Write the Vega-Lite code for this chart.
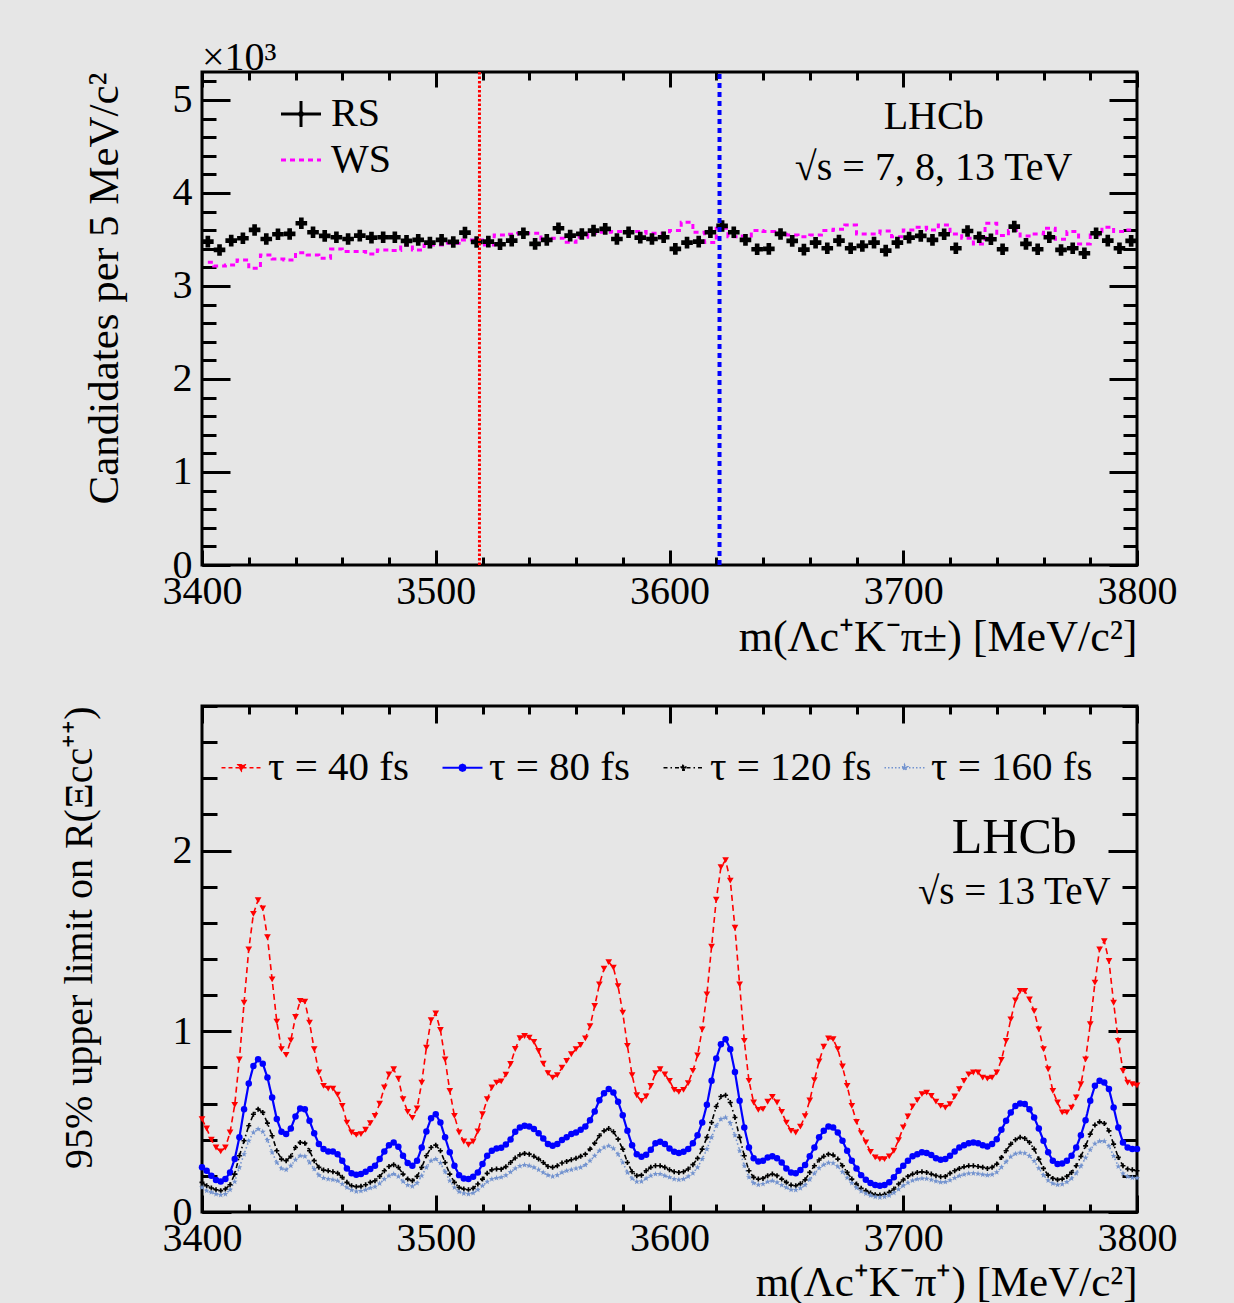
{
"$schema": "https://vega.github.io/schema/vega-lite/v6.json",
"background": "#e6e6e6",
"padding": {"left": 57, "top": 36, "right": 58, "bottom": 0},
"spacing": 42,
"config": {
  "font": "Liberation Serif",
  "view": {"stroke": "#000000", "strokeWidth": 3},
  "axis": {"grid": false, "domain": false, "labelFont": "Liberation Serif", "labelFontSize": 40, "labelColor": "#000000", "titleFont": "Liberation Serif", "titleFontSize": 43, "titleFontWeight": "normal", "titleColor": "#000000", "tickColor": "#000000", "tickWidth": 3, "labelFlush": false, "labelOverlap": false, "labelBound": false},
  "legend": {"labelFont": "Liberation Serif", "labelFontSize": 40, "labelColor": "#000000", "padding": 0, "labelLimit": 500}
},
"resolve": {"scale": {"color": "independent"}, "legend": {"color": "independent"}},
"vconcat": [
{
  "width": 935, "height": 493,
  "title": {"text": "×10³", "anchor": "start", "frame": "group", "fontSize": 40, "font": "Liberation Serif", "fontWeight": "normal", "color": "#000000", "offset": -8},
  "data": {"values": [
{"m":3402.5,"RS":3.476,"WS":3.255},{"m":3407.5,"RS":3.387,"WS":3.215},{"m":3412.5,"RS":3.487,"WS":3.226},{"m":3417.5,"RS":3.513,"WS":3.280},
{"m":3422.5,"RS":3.602,"WS":3.190},{"m":3427.5,"RS":3.505,"WS":3.333},{"m":3432.5,"RS":3.556,"WS":3.290},{"m":3437.5,"RS":3.559,"WS":3.280},
{"m":3442.5,"RS":3.674,"WS":3.358},{"m":3447.5,"RS":3.577,"WS":3.333},{"m":3452.5,"RS":3.538,"WS":3.298},{"m":3457.5,"RS":3.524,"WS":3.398},
{"m":3462.5,"RS":3.505,"WS":3.369},{"m":3467.5,"RS":3.541,"WS":3.369},{"m":3472.5,"RS":3.519,"WS":3.344},{"m":3477.5,"RS":3.524,"WS":3.387},
{"m":3482.5,"RS":3.524,"WS":3.380},{"m":3487.5,"RS":3.484,"WS":3.441},{"m":3492.5,"RS":3.495,"WS":3.387},{"m":3497.5,"RS":3.466,"WS":3.441},
{"m":3502.5,"RS":3.495,"WS":3.441},{"m":3507.5,"RS":3.473,"WS":3.459},{"m":3512.5,"RS":3.573,"WS":3.495},{"m":3517.5,"RS":3.473,"WS":3.495},
{"m":3522.5,"RS":3.476,"WS":3.441},{"m":3527.5,"RS":3.448,"WS":3.548},{"m":3532.5,"RS":3.487,"WS":3.557},{"m":3537.5,"RS":3.567,"WS":3.567},
{"m":3542.5,"RS":3.452,"WS":3.567},{"m":3547.5,"RS":3.495,"WS":3.484},{"m":3552.5,"RS":3.620,"WS":3.513},{"m":3557.5,"RS":3.541,"WS":3.470},
{"m":3562.5,"RS":3.559,"WS":3.524},{"m":3567.5,"RS":3.595,"WS":3.567},{"m":3572.5,"RS":3.613,"WS":3.577},{"m":3577.5,"RS":3.505,"WS":3.584},
{"m":3582.5,"RS":3.577,"WS":3.584},{"m":3587.5,"RS":3.519,"WS":3.584},{"m":3592.5,"RS":3.505,"WS":3.567},{"m":3597.5,"RS":3.524,"WS":3.567},
{"m":3602.5,"RS":3.398,"WS":3.595},{"m":3607.5,"RS":3.466,"WS":3.685},{"m":3612.5,"RS":3.476,"WS":3.577},{"m":3617.5,"RS":3.577,"WS":3.466},
{"m":3622.5,"RS":3.645,"WS":3.620},{"m":3627.5,"RS":3.577,"WS":3.530},{"m":3632.5,"RS":3.495,"WS":3.538},{"m":3637.5,"RS":3.395,"WS":3.595},
{"m":3642.5,"RS":3.398,"WS":3.584},{"m":3647.5,"RS":3.559,"WS":3.556},{"m":3652.5,"RS":3.484,"WS":3.548},{"m":3657.5,"RS":3.391,"WS":3.530},
{"m":3662.5,"RS":3.465,"WS":3.548},{"m":3667.5,"RS":3.405,"WS":3.595},{"m":3672.5,"RS":3.487,"WS":3.610},{"m":3677.5,"RS":3.405,"WS":3.656},
{"m":3682.5,"RS":3.430,"WS":3.559},{"m":3687.5,"RS":3.466,"WS":3.559},{"m":3692.5,"RS":3.380,"WS":3.591},{"m":3697.5,"RS":3.466,"WS":3.530},
{"m":3702.5,"RS":3.519,"WS":3.602},{"m":3707.5,"RS":3.538,"WS":3.631},{"m":3712.5,"RS":3.495,"WS":3.602},{"m":3717.5,"RS":3.556,"WS":3.656},
{"m":3722.5,"RS":3.405,"WS":3.559},{"m":3727.5,"RS":3.591,"WS":3.513},{"m":3732.5,"RS":3.524,"WS":3.452},{"m":3737.5,"RS":3.502,"WS":3.674},
{"m":3742.5,"RS":3.395,"WS":3.541},{"m":3747.5,"RS":3.638,"WS":3.595},{"m":3752.5,"RS":3.452,"WS":3.538},{"m":3757.5,"RS":3.395,"WS":3.559},
{"m":3762.5,"RS":3.524,"WS":3.620},{"m":3767.5,"RS":3.387,"WS":3.502},{"m":3772.5,"RS":3.405,"WS":3.584},{"m":3777.5,"RS":3.352,"WS":3.452},
{"m":3782.5,"RS":3.567,"WS":3.548},{"m":3787.5,"RS":3.487,"WS":3.631},{"m":3792.5,"RS":3.405,"WS":3.584},{"m":3797.5,"RS":3.484,"WS":3.602}
  ]},
  "transform": [{"fold": ["RS", "WS"], "as": ["series", "count"]}],
  "resolve": {"axis": {"x": "independent", "y": "independent"}},
  "layer": [
    {
      "transform": [{"filter": "datum.series === 'WS'"}],
      "mark": {"type": "line", "interpolate": "step"},
      "encoding": {
        "x": {"field": "m", "type": "quantitative", "scale": {"domain": [3400, 3800], "nice": false, "zero": false},
              "axis": {"orient": "bottom", "values": [3400, 3500, 3600, 3700, 3800], "format": "d", "tickSize": -15, "labelPadding": 21, "title": "m(Λc⁺K⁻π±) [MeV/c²]", "titleFontSize": 44, "titleAnchor": "end", "titlePadding": 4}},
        "y": {"field": "count", "type": "quantitative", "scale": {"domain": [0, 5.3], "nice": false},
              "axis": {"orient": "left", "values": [0, 1, 2, 3, 4, 5], "tickSize": -28, "labelPadding": 38, "title": "Candidates per 5 MeV/c²", "titleAnchor": "end", "titlePadding": 46}},
        "color": {"field": "series", "type": "nominal", "scale": {"domain": ["RS", "WS"], "range": ["#000000", "#ff00ff"]},
                  "legend": {"orient": "none", "legendX": 79, "legendY": 22, "title": null, "direction": "vertical", "symbolSize": 1600, "labelOffset": 10, "rowPadding": 6, "labelFontSize": 40,
                    "encode": {"symbols": {"update": {
                      "shape": {"signal": "datum.value === 'RS' ? 'M-1,0H1M0,-0.65V0.65M0.1,0L0,0.1L-0.1,0L0,-0.1Z' : 'M-1,0H1'"},
                      "stroke": {"signal": "datum.value === 'RS' ? '#000000' : '#ff00ff'"},
                      "fill": {"signal": "datum.value === 'RS' ? '#000000' : 'transparent'"},
                      "strokeWidth": {"signal": "datum.value === 'RS' ? 3 : 3"},
                      "strokeDash": {"signal": "datum.value === 'RS' ? [1, 0] : [5, 4]"},
                      "opacity": {"value": 1}
                    }}}}},
        "strokeDash": {"field": "series", "type": "nominal", "scale": {"domain": ["RS", "WS", "tau40", "tau80", "tau120", "tau160"], "range": [[1, 0], [5, 4], [6, 4], [1, 0], [5, 3, 1.5, 3], [1.5, 2.5]]}, "legend": null},
        "strokeWidth": {"field": "series", "type": "ordinal", "scale": {"type": "ordinal", "domain": ["RS", "WS", "tau40", "tau80", "tau120", "tau160"], "range": [3, 3, 1.6, 2.2, 1.6, 1.6]}, "legend": null}
      }
    },
    {
      "transform": [{"filter": "datum.series === 'RS'"}],
      "mark": {"type": "point", "filled": true, "size": 135, "opacity": 1},
      "encoding": {
        "x": {"field": "m", "type": "quantitative", "scale": {"domain": [3400, 3800], "nice": false, "zero": false},
              "axis": {"orient": "bottom", "values": [3400,3420,3440,3460,3480,3500,3520,3540,3560,3580,3600,3620,3640,3660,3680,3700,3720,3740,3760,3780,3800], "tickSize": -8, "labels": false, "title": null}},
        "y": {"field": "count", "type": "quantitative", "scale": {"domain": [0, 5.3], "nice": false},
              "axis": {"orient": "left", "values": [0,0.2,0.4,0.6,0.8,1,1.2,1.4,1.6,1.8,2,2.2,2.4,2.6,2.8,3,3.2,3.4,3.6,3.8,4,4.2,4.4,4.6,4.8,5,5.2], "tickSize": -14, "labels": false, "title": null}},
        "color": {"field": "series", "type": "nominal", "scale": {"domain": ["RS", "WS"], "range": ["#000000", "#ff00ff"]}},
        "shape": {"field": "series", "type": "nominal", "scale": {"domain": ["RS", "WS", "tau40", "tau80", "tau120", "tau160"], "range": ["cross", "cross", "triangle-down", "circle", "M-1,-0.33H-0.33V-1H0.33V-0.33H1V0.33H0.33V1H-0.33V0.33H-1Z", "M0,-1L0.235,-0.32L0.95,-0.31L0.38,0.12L0.59,0.81L0,0.4L-0.59,0.81L-0.38,0.12L-0.95,-0.31L-0.235,-0.32Z"]}, "legend": null}
      }
    },
    {
      "data": {"values": [{"mass": 3518.7}]},
      "mark": {"type": "rule", "color": "#ff0000", "strokeWidth": 3, "strokeDash": [2.5, 2]},
      "encoding": {
        "x": {"field": "mass", "type": "quantitative", "scale": {"domain": [3400, 3800], "nice": false, "zero": false},
              "axis": {"orient": "top", "values": [3400, 3500, 3600, 3700, 3800], "tickSize": -15, "labels": false, "title": null}},
        "y": {"datum": 0, "type": "quantitative", "scale": {"domain": [0, 5.3], "nice": false},
              "axis": {"orient": "right", "values": [0, 1, 2, 3, 4, 5], "tickSize": -28, "labels": false, "title": null}},
        "y2": {"datum": 5.3}
      }
    },
    {
      "data": {"values": [{"mass": 3621.4}]},
      "mark": {"type": "rule", "color": "#0000ff", "strokeWidth": 4, "strokeDash": [5, 4]},
      "encoding": {
        "x": {"field": "mass", "type": "quantitative", "scale": {"domain": [3400, 3800], "nice": false, "zero": false},
              "axis": {"orient": "top", "values": [3400,3420,3440,3460,3480,3500,3520,3540,3560,3580,3600,3620,3640,3660,3680,3700,3720,3740,3760,3780,3800], "tickSize": -8, "labels": false, "title": null}},
        "y": {"datum": 0, "type": "quantitative", "scale": {"domain": [0, 5.3], "nice": false},
              "axis": {"orient": "right", "values": [0,0.2,0.4,0.6,0.8,1,1.2,1.4,1.6,1.8,2,2.2,2.4,2.6,2.8,3,3.2,3.4,3.6,3.8,4,4.2,4.4,4.6,4.8,5,5.2], "tickSize": -14, "labels": false, "title": null}},
        "y2": {"datum": 5.3}
      }
    },
    {
      "data": {"values": [{"label": "LHCb"}]},
      "mark": {"type": "text", "font": "Liberation Serif", "fontSize": 40, "align": "center", "baseline": "middle", "color": "#000000"},
      "encoding": {
        "text": {"field": "label"},
        "x": {"datum": 3713, "type": "quantitative", "axis": null},
        "y": {"datum": 4.82, "type": "quantitative", "axis": null}
      }
    },
    {
      "data": {"values": [{"label": "√s = 7, 8, 13 TeV"}]},
      "mark": {"type": "text", "font": "Liberation Serif", "fontSize": 40, "align": "center", "baseline": "middle", "color": "#000000"},
      "encoding": {
        "text": {"field": "label"},
        "x": {"datum": 3713, "type": "quantitative", "axis": null},
        "y": {"datum": 4.27, "type": "quantitative", "axis": null}
      }
    }
  ]
},
{
  "width": 935, "height": 506,
  "data": {"values": [
{"m":3400,"tau40":0.514,"tau80":0.247,"tau120":0.164,"tau160":0.136},
{"m":3402,"tau40":0.462,"tau80":0.228,"tau120":0.145,"tau160":0.118},
{"m":3404,"tau40":0.400,"tau80":0.201,"tau120":0.133,"tau160":0.109},
{"m":3406,"tau40":0.357,"tau80":0.177,"tau120":0.123,"tau160":0.099},
{"m":3408,"tau40":0.335,"tau80":0.169,"tau120":0.118,"tau160":0.094},
{"m":3410,"tau40":0.357,"tau80":0.182,"tau120":0.127,"tau160":0.099},
{"m":3412,"tau40":0.440,"tau80":0.219,"tau120":0.151,"tau160":0.123},
{"m":3414,"tau40":0.593,"tau80":0.293,"tau120":0.210,"tau160":0.168},
{"m":3416,"tau40":0.845,"tau80":0.413,"tau120":0.311,"tau160":0.247},
{"m":3418,"tau40":1.158,"tau80":0.569,"tau120":0.394,"tau160":0.320},
{"m":3420,"tau40":1.453,"tau80":0.711,"tau120":0.477,"tau160":0.394},
{"m":3422,"tau40":1.650,"tau80":0.808,"tau120":0.541,"tau160":0.440},
{"m":3424,"tau40":1.726,"tau80":0.845,"tau120":0.569,"tau160":0.459},
{"m":3426,"tau40":1.680,"tau80":0.821,"tau120":0.551,"tau160":0.444},
{"m":3428,"tau40":1.521,"tau80":0.744,"tau120":0.492,"tau160":0.398},
{"m":3430,"tau40":1.287,"tau80":0.634,"tau120":0.422,"tau160":0.330},
{"m":3432,"tau40":1.053,"tau80":0.514,"tau120":0.339,"tau160":0.274},
{"m":3434,"tau40":0.901,"tau80":0.444,"tau120":0.293,"tau160":0.241},
{"m":3436,"tau40":0.869,"tau80":0.431,"tau120":0.284,"tau160":0.234},
{"m":3438,"tau40":0.950,"tau80":0.462,"tau120":0.308,"tau160":0.256},
{"m":3440,"tau40":1.079,"tau80":0.529,"tau120":0.357,"tau160":0.289},
{"m":3442,"tau40":1.168,"tau80":0.573,"tau120":0.385,"tau160":0.311},
{"m":3444,"tau40":1.164,"tau80":0.569,"tau120":0.381,"tau160":0.308},
{"m":3446,"tau40":1.048,"tau80":0.505,"tau120":0.339,"tau160":0.274},
{"m":3448,"tau40":0.901,"tau80":0.436,"tau120":0.284,"tau160":0.238},
{"m":3450,"tau40":0.772,"tau80":0.376,"tau120":0.247,"tau160":0.204},
{"m":3452,"tau40":0.698,"tau80":0.348,"tau120":0.232,"tau160":0.188},
{"m":3454,"tau40":0.683,"tau80":0.335,"tau120":0.228,"tau160":0.182},
{"m":3456,"tau40":0.683,"tau80":0.335,"tau120":0.223,"tau160":0.179},
{"m":3458,"tau40":0.650,"tau80":0.320,"tau120":0.215,"tau160":0.173},
{"m":3460,"tau40":0.587,"tau80":0.284,"tau120":0.192,"tau160":0.155},
{"m":3462,"tau40":0.495,"tau80":0.241,"tau120":0.164,"tau160":0.136},
{"m":3464,"tau40":0.440,"tau80":0.215,"tau120":0.145,"tau160":0.122},
{"m":3466,"tau40":0.427,"tau80":0.206,"tau120":0.140,"tau160":0.114},
{"m":3468,"tau40":0.431,"tau80":0.210,"tau120":0.142,"tau160":0.116},
{"m":3470,"tau40":0.455,"tau80":0.223,"tau120":0.151,"tau160":0.123},
{"m":3472,"tau40":0.492,"tau80":0.238,"tau120":0.164,"tau160":0.133},
{"m":3474,"tau40":0.532,"tau80":0.256,"tau120":0.173,"tau160":0.140},
{"m":3476,"tau40":0.600,"tau80":0.293,"tau120":0.197,"tau160":0.158},
{"m":3478,"tau40":0.689,"tau80":0.335,"tau120":0.228,"tau160":0.182},
{"m":3480,"tau40":0.762,"tau80":0.370,"tau120":0.252,"tau160":0.201},
{"m":3482,"tau40":0.790,"tau80":0.385,"tau120":0.262,"tau160":0.210},
{"m":3484,"tau40":0.738,"tau80":0.361,"tau120":0.247,"tau160":0.197},
{"m":3486,"tau40":0.624,"tau80":0.311,"tau120":0.210,"tau160":0.169},
{"m":3488,"tau40":0.554,"tau80":0.271,"tau120":0.182,"tau160":0.149},
{"m":3490,"tau40":0.521,"tau80":0.256,"tau120":0.173,"tau160":0.142},
{"m":3492,"tau40":0.573,"tau80":0.284,"tau120":0.197,"tau160":0.160},
{"m":3494,"tau40":0.716,"tau80":0.357,"tau120":0.247,"tau160":0.201},
{"m":3496,"tau40":0.910,"tau80":0.446,"tau120":0.311,"tau160":0.247},
{"m":3498,"tau40":1.061,"tau80":0.519,"tau120":0.357,"tau160":0.284},
{"m":3500,"tau40":1.099,"tau80":0.541,"tau120":0.370,"tau160":0.293},
{"m":3502,"tau40":1.007,"tau80":0.495,"tau120":0.339,"tau160":0.271},
{"m":3504,"tau40":0.845,"tau80":0.413,"tau120":0.274,"tau160":0.223},
{"m":3506,"tau40":0.670,"tau80":0.330,"tau120":0.210,"tau160":0.173},
{"m":3508,"tau40":0.532,"tau80":0.256,"tau120":0.164,"tau160":0.136},
{"m":3510,"tau40":0.440,"tau80":0.204,"tau120":0.136,"tau160":0.112},
{"m":3512,"tau40":0.390,"tau80":0.186,"tau120":0.127,"tau160":0.103},
{"m":3514,"tau40":0.372,"tau80":0.182,"tau120":0.123,"tau160":0.099},
{"m":3516,"tau40":0.390,"tau80":0.195,"tau120":0.131,"tau160":0.105},
{"m":3518,"tau40":0.446,"tau80":0.219,"tau120":0.155,"tau160":0.123},
{"m":3520,"tau40":0.541,"tau80":0.265,"tau120":0.182,"tau160":0.145},
{"m":3522,"tau40":0.624,"tau80":0.311,"tau120":0.214,"tau160":0.168},
{"m":3524,"tau40":0.689,"tau80":0.339,"tau120":0.234,"tau160":0.182},
{"m":3526,"tau40":0.716,"tau80":0.352,"tau120":0.238,"tau160":0.188},
{"m":3528,"tau40":0.723,"tau80":0.355,"tau120":0.237,"tau160":0.192},
{"m":3530,"tau40":0.760,"tau80":0.373,"tau120":0.251,"tau160":0.203},
{"m":3532,"tau40":0.819,"tau80":0.401,"tau120":0.274,"tau160":0.221},
{"m":3534,"tau40":0.902,"tau80":0.444,"tau120":0.299,"tau160":0.241},
{"m":3536,"tau40":0.962,"tau80":0.468,"tau120":0.317,"tau160":0.254},
{"m":3538,"tau40":0.974,"tau80":0.477,"tau120":0.324,"tau160":0.260},
{"m":3540,"tau40":0.965,"tau80":0.473,"tau120":0.320,"tau160":0.256},
{"m":3542,"tau40":0.941,"tau80":0.459,"tau120":0.308,"tau160":0.247},
{"m":3544,"tau40":0.891,"tau80":0.436,"tau120":0.293,"tau160":0.234},
{"m":3546,"tau40":0.821,"tau80":0.407,"tau120":0.274,"tau160":0.219},
{"m":3548,"tau40":0.768,"tau80":0.376,"tau120":0.252,"tau160":0.204},
{"m":3550,"tau40":0.744,"tau80":0.366,"tau120":0.247,"tau160":0.197},
{"m":3552,"tau40":0.757,"tau80":0.376,"tau120":0.256,"tau160":0.204},
{"m":3554,"tau40":0.799,"tau80":0.398,"tau120":0.271,"tau160":0.219},
{"m":3556,"tau40":0.836,"tau80":0.413,"tau120":0.280,"tau160":0.228},
{"m":3558,"tau40":0.873,"tau80":0.431,"tau120":0.289,"tau160":0.234},
{"m":3560,"tau40":0.901,"tau80":0.440,"tau120":0.297,"tau160":0.241},
{"m":3562,"tau40":0.924,"tau80":0.455,"tau120":0.308,"tau160":0.247},
{"m":3564,"tau40":0.961,"tau80":0.473,"tau120":0.320,"tau160":0.260},
{"m":3566,"tau40":1.029,"tau80":0.508,"tau120":0.348,"tau160":0.284},
{"m":3568,"tau40":1.140,"tau80":0.556,"tau120":0.381,"tau160":0.311},
{"m":3570,"tau40":1.260,"tau80":0.619,"tau120":0.422,"tau160":0.339},
{"m":3572,"tau40":1.346,"tau80":0.657,"tau120":0.449,"tau160":0.357},
{"m":3574,"tau40":1.383,"tau80":0.680,"tau120":0.462,"tau160":0.366},
{"m":3576,"tau40":1.352,"tau80":0.661,"tau120":0.444,"tau160":0.352},
{"m":3578,"tau40":1.250,"tau80":0.610,"tau120":0.403,"tau160":0.320},
{"m":3580,"tau40":1.103,"tau80":0.536,"tau120":0.348,"tau160":0.274},
{"m":3582,"tau40":0.919,"tau80":0.449,"tau120":0.274,"tau160":0.219},
{"m":3584,"tau40":0.757,"tau80":0.370,"tau120":0.223,"tau160":0.186},
{"m":3586,"tau40":0.646,"tau80":0.320,"tau120":0.201,"tau160":0.168},
{"m":3588,"tau40":0.615,"tau80":0.306,"tau120":0.204,"tau160":0.169},
{"m":3590,"tau40":0.639,"tau80":0.317,"tau120":0.228,"tau160":0.186},
{"m":3592,"tau40":0.698,"tau80":0.344,"tau120":0.247,"tau160":0.201},
{"m":3594,"tau40":0.768,"tau80":0.381,"tau120":0.256,"tau160":0.210},
{"m":3596,"tau40":0.790,"tau80":0.389,"tau120":0.256,"tau160":0.210},
{"m":3598,"tau40":0.762,"tau80":0.376,"tau120":0.247,"tau160":0.201},
{"m":3600,"tau40":0.726,"tau80":0.352,"tau120":0.234,"tau160":0.192},
{"m":3602,"tau40":0.676,"tau80":0.333,"tau120":0.223,"tau160":0.182},
{"m":3604,"tau40":0.665,"tau80":0.326,"tau120":0.219,"tau160":0.179},
{"m":3606,"tau40":0.676,"tau80":0.333,"tau120":0.223,"tau160":0.182},
{"m":3608,"tau40":0.713,"tau80":0.348,"tau120":0.238,"tau160":0.197},
{"m":3610,"tau40":0.781,"tau80":0.381,"tau120":0.262,"tau160":0.215},
{"m":3612,"tau40":0.867,"tau80":0.425,"tau120":0.297,"tau160":0.247},
{"m":3614,"tau40":1.011,"tau80":0.495,"tau120":0.348,"tau160":0.293},
{"m":3616,"tau40":1.204,"tau80":0.593,"tau120":0.413,"tau160":0.348},
{"m":3618,"tau40":1.468,"tau80":0.726,"tau120":0.495,"tau160":0.413},
{"m":3620,"tau40":1.729,"tau80":0.849,"tau120":0.584,"tau160":0.477},
{"m":3622,"tau40":1.908,"tau80":0.928,"tau120":0.639,"tau160":0.514},
{"m":3624,"tau40":1.947,"tau80":0.956,"tau120":0.646,"tau160":0.523},
{"m":3626,"tau40":1.834,"tau80":0.901,"tau120":0.606,"tau160":0.492},
{"m":3628,"tau40":1.573,"tau80":0.775,"tau120":0.523,"tau160":0.425},
{"m":3630,"tau40":1.260,"tau80":0.615,"tau120":0.413,"tau160":0.339},
{"m":3632,"tau40":0.947,"tau80":0.468,"tau120":0.311,"tau160":0.256},
{"m":3634,"tau40":0.726,"tau80":0.357,"tau120":0.228,"tau160":0.192},
{"m":3636,"tau40":0.606,"tau80":0.297,"tau120":0.192,"tau160":0.160},
{"m":3638,"tau40":0.565,"tau80":0.280,"tau120":0.182,"tau160":0.151},
{"m":3640,"tau40":0.569,"tau80":0.284,"tau120":0.186,"tau160":0.155},
{"m":3642,"tau40":0.610,"tau80":0.302,"tau120":0.201,"tau160":0.168},
{"m":3644,"tau40":0.637,"tau80":0.308,"tau120":0.210,"tau160":0.173},
{"m":3646,"tau40":0.606,"tau80":0.297,"tau120":0.201,"tau160":0.164},
{"m":3648,"tau40":0.554,"tau80":0.274,"tau120":0.182,"tau160":0.149},
{"m":3650,"tau40":0.495,"tau80":0.241,"tau120":0.164,"tau160":0.136},
{"m":3652,"tau40":0.449,"tau80":0.219,"tau120":0.149,"tau160":0.123},
{"m":3654,"tau40":0.440,"tau80":0.215,"tau120":0.145,"tau160":0.122},
{"m":3656,"tau40":0.472,"tau80":0.233,"tau120":0.157,"tau160":0.132},
{"m":3658,"tau40":0.531,"tau80":0.260,"tau120":0.178,"tau160":0.150},
{"m":3660,"tau40":0.617,"tau80":0.309,"tau120":0.219,"tau160":0.180},
{"m":3662,"tau40":0.730,"tau80":0.357,"tau120":0.256,"tau160":0.213},
{"m":3664,"tau40":0.834,"tau80":0.413,"tau120":0.288,"tau160":0.243},
{"m":3666,"tau40":0.915,"tau80":0.449,"tau120":0.308,"tau160":0.262},
{"m":3668,"tau40":0.961,"tau80":0.473,"tau120":0.320,"tau160":0.272},
{"m":3670,"tau40":0.956,"tau80":0.468,"tau120":0.315,"tau160":0.270},
{"m":3672,"tau40":0.901,"tau80":0.440,"tau120":0.293,"tau160":0.252},
{"m":3674,"tau40":0.805,"tau80":0.394,"tau120":0.256,"tau160":0.222},
{"m":3676,"tau40":0.698,"tau80":0.339,"tau120":0.219,"tau160":0.190},
{"m":3678,"tau40":0.587,"tau80":0.284,"tau120":0.182,"tau160":0.160},
{"m":3680,"tau40":0.499,"tau80":0.241,"tau120":0.155,"tau160":0.134},
{"m":3682,"tau40":0.436,"tau80":0.204,"tau120":0.131,"tau160":0.115},
{"m":3684,"tau40":0.385,"tau80":0.179,"tau120":0.118,"tau160":0.102},
{"m":3686,"tau40":0.333,"tau80":0.160,"tau120":0.105,"tau160":0.092},
{"m":3688,"tau40":0.302,"tau80":0.149,"tau120":0.096,"tau160":0.084},
{"m":3690,"tau40":0.293,"tau80":0.145,"tau120":0.094,"tau160":0.081},
{"m":3692,"tau40":0.293,"tau80":0.149,"tau120":0.098,"tau160":0.084},
{"m":3694,"tau40":0.308,"tau80":0.164,"tau120":0.109,"tau160":0.092},
{"m":3696,"tau40":0.339,"tau80":0.192,"tau120":0.127,"tau160":0.106},
{"m":3698,"tau40":0.398,"tau80":0.228,"tau120":0.155,"tau160":0.126},
{"m":3700,"tau40":0.468,"tau80":0.256,"tau120":0.177,"tau160":0.146},
{"m":3702,"tau40":0.529,"tau80":0.284,"tau120":0.197,"tau160":0.162},
{"m":3704,"tau40":0.584,"tau80":0.308,"tau120":0.210,"tau160":0.174},
{"m":3706,"tau40":0.619,"tau80":0.320,"tau120":0.219,"tau160":0.182},
{"m":3708,"tau40":0.652,"tau80":0.330,"tau120":0.223,"tau160":0.186},
{"m":3710,"tau40":0.661,"tau80":0.326,"tau120":0.219,"tau160":0.184},
{"m":3712,"tau40":0.643,"tau80":0.315,"tau120":0.210,"tau160":0.178},
{"m":3714,"tau40":0.611,"tau80":0.298,"tau120":0.201,"tau160":0.170},
{"m":3716,"tau40":0.587,"tau80":0.289,"tau120":0.195,"tau160":0.165},
{"m":3718,"tau40":0.578,"tau80":0.293,"tau120":0.197,"tau160":0.166},
{"m":3720,"tau40":0.597,"tau80":0.311,"tau120":0.214,"tau160":0.176},
{"m":3722,"tau40":0.639,"tau80":0.335,"tau120":0.228,"tau160":0.188},
{"m":3724,"tau40":0.680,"tau80":0.357,"tau120":0.241,"tau160":0.200},
{"m":3726,"tau40":0.726,"tau80":0.370,"tau120":0.250,"tau160":0.208},
{"m":3728,"tau40":0.762,"tau80":0.381,"tau120":0.256,"tau160":0.213},
{"m":3730,"tau40":0.772,"tau80":0.385,"tau120":0.256,"tau160":0.214},
{"m":3732,"tau40":0.772,"tau80":0.381,"tau120":0.252,"tau160":0.212},
{"m":3734,"tau40":0.744,"tau80":0.370,"tau120":0.247,"tau160":0.207},
{"m":3736,"tau40":0.738,"tau80":0.363,"tau120":0.241,"tau160":0.204},
{"m":3738,"tau40":0.744,"tau80":0.376,"tau120":0.247,"tau160":0.207},
{"m":3740,"tau40":0.772,"tau80":0.403,"tau120":0.265,"tau160":0.220},
{"m":3742,"tau40":0.842,"tau80":0.455,"tau120":0.302,"tau160":0.248},
{"m":3744,"tau40":0.947,"tau80":0.505,"tau120":0.339,"tau160":0.278},
{"m":3746,"tau40":1.066,"tau80":0.551,"tau120":0.376,"tau160":0.306},
{"m":3748,"tau40":1.171,"tau80":0.587,"tau120":0.400,"tau160":0.322},
{"m":3750,"tau40":1.223,"tau80":0.600,"tau120":0.413,"tau160":0.328},
{"m":3752,"tau40":1.223,"tau80":0.597,"tau120":0.407,"tau160":0.325},
{"m":3754,"tau40":1.177,"tau80":0.569,"tau120":0.385,"tau160":0.310},
{"m":3756,"tau40":1.112,"tau80":0.523,"tau120":0.348,"tau160":0.282},
{"m":3758,"tau40":1.011,"tau80":0.462,"tau120":0.293,"tau160":0.242},
{"m":3760,"tau40":0.901,"tau80":0.394,"tau120":0.241,"tau160":0.204},
{"m":3762,"tau40":0.790,"tau80":0.330,"tau120":0.204,"tau160":0.175},
{"m":3764,"tau40":0.670,"tau80":0.284,"tau120":0.186,"tau160":0.158},
{"m":3766,"tau40":0.606,"tau80":0.265,"tau120":0.179,"tau160":0.151},
{"m":3768,"tau40":0.551,"tau80":0.269,"tau120":0.182,"tau160":0.154},
{"m":3770,"tau40":0.551,"tau80":0.284,"tau120":0.197,"tau160":0.166},
{"m":3772,"tau40":0.578,"tau80":0.311,"tau120":0.219,"tau160":0.186},
{"m":3774,"tau40":0.634,"tau80":0.357,"tau120":0.256,"tau160":0.215},
{"m":3776,"tau40":0.707,"tau80":0.425,"tau120":0.308,"tau160":0.254},
{"m":3778,"tau40":0.845,"tau80":0.508,"tau120":0.366,"tau160":0.300},
{"m":3780,"tau40":1.039,"tau80":0.615,"tau120":0.431,"tau160":0.345},
{"m":3782,"tau40":1.269,"tau80":0.698,"tau120":0.481,"tau160":0.378},
{"m":3784,"tau40":1.453,"tau80":0.726,"tau120":0.499,"tau160":0.392},
{"m":3786,"tau40":1.499,"tau80":0.716,"tau120":0.490,"tau160":0.392},
{"m":3788,"tau40":1.389,"tau80":0.680,"tau120":0.449,"tau160":0.365},
{"m":3790,"tau40":1.158,"tau80":0.578,"tau120":0.376,"tau160":0.310},
{"m":3792,"tau40":0.947,"tau80":0.468,"tau120":0.302,"tau160":0.252},
{"m":3794,"tau40":0.781,"tau80":0.385,"tau120":0.256,"tau160":0.213},
{"m":3796,"tau40":0.716,"tau80":0.357,"tau120":0.238,"tau160":0.196},
{"m":3798,"tau40":0.707,"tau80":0.348,"tau120":0.234,"tau160":0.190},
{"m":3800,"tau40":0.700,"tau80":0.348,"tau120":0.228,"tau160":0.188}
  ]},
  "transform": [{"fold": ["tau40", "tau80", "tau120", "tau160"], "as": ["tau", "ul"]}],
  "resolve": {"axis": {"x": "independent", "y": "independent"}},
  "layer": [
    {
      "mark": {"type": "line"},
      "encoding": {
        "x": {"field": "m", "type": "quantitative", "scale": {"domain": [3400, 3800], "nice": false, "zero": false},
              "axis": {"orient": "bottom", "values": [3400, 3500, 3600, 3700, 3800], "format": "d", "tickSize": -17, "labelPadding": 23, "title": "m(Λc⁺K⁻π⁺) [MeV/c²]", "titleFontSize": 43, "titleAnchor": "end", "titlePadding": 3}},
        "y": {"field": "ul", "type": "quantitative", "scale": {"domain": [0, 2.8], "nice": false},
              "axis": {"orient": "left", "values": [0, 1, 2], "tickSize": -29, "labelPadding": 39, "title": "95% upper limit on R(Ξcc⁺⁺)", "titleFontSize": 40, "titleAnchor": "end", "titlePadding": 73}},
        "color": {"field": "tau", "type": "nominal", "scale": {"domain": ["tau40", "tau80", "tau120", "tau160"], "range": ["#ff0000", "#0000ff", "#000000", "#7393cf"]},
                  "legend": {"orient": "none", "legendX": 19, "legendY": 41, "title": null, "direction": "horizontal", "columns": 4, "gridAlign": "all", "columnPadding": 8, "symbolSize": 1600, "labelOffset": 6, "labelFontSize": 41,
                    "labelExpr": "'τ = ' + replace(datum.label, 'tau', '') + ' fs'",
                    "encode": {"symbols": {"update": {
                      "shape": {"signal": "datum.value === 'tau40' ? 'M-1,0H1M-0.18,-0.15H0.18L0,0.16Z' : datum.value === 'tau80' ? 'M-1,0H1M0.16,0L0.113,0.113L0,0.16L-0.113,0.113L-0.16,0L-0.113,-0.113L0,-0.16L0.113,-0.113Z' : datum.value === 'tau120' ? 'M-1,0H1M-0.12,-0.035H-0.035V-0.12H0.035V-0.035H0.12V0.035H0.035V0.12H-0.035V0.035H-0.12Z' : 'M-1,0H1M0,-0.15L0.035,-0.05L0.143,-0.047L0.057,0.018L0.088,0.121L0,0.06L-0.088,0.121L-0.057,0.018L-0.143,-0.047L-0.035,-0.05Z'"},
                      "stroke": {"signal": "datum.value === 'tau40' ? '#ff0000' : datum.value === 'tau80' ? '#0000ff' : datum.value === 'tau120' ? '#000000' : '#7393cf'"},
                      "fill": {"signal": "datum.value === 'tau40' ? '#ff0000' : datum.value === 'tau80' ? '#0000ff' : datum.value === 'tau120' ? '#000000' : '#7393cf'"},
                      "strokeWidth": {"signal": "datum.value === 'tau80' ? 2 : 1.5"},
                      "strokeDash": {"signal": "datum.value === 'tau40' ? [4, 3] : datum.value === 'tau80' ? [1, 0] : datum.value === 'tau120' ? [4, 3, 1.5, 3] : [1.5, 2]"},
                      "opacity": {"value": 1}
                    }}}}},
        "strokeDash": {"field": "tau", "type": "nominal", "scale": {"domain": ["RS", "WS", "tau40", "tau80", "tau120", "tau160"], "range": [[1, 0], [5, 4], [6, 4], [1, 0], [5, 3, 1.5, 3], [1.5, 2.5]]}, "legend": null},
        "strokeWidth": {"field": "tau", "type": "ordinal", "scale": {"type": "ordinal", "domain": ["RS", "WS", "tau40", "tau80", "tau120", "tau160"], "range": [3, 3, 1.6, 2.2, 1.6, 1.6]}, "legend": null}
      }
    },
    {
      "mark": {"type": "point", "filled": true, "opacity": 1},
      "encoding": {
        "x": {"field": "m", "type": "quantitative", "scale": {"domain": [3400, 3800], "nice": false, "zero": false},
              "axis": {"orient": "bottom", "values": [3400,3420,3440,3460,3480,3500,3520,3540,3560,3580,3600,3620,3640,3660,3680,3700,3720,3740,3760,3780,3800], "tickSize": -8, "labels": false, "title": null}},
        "y": {"field": "ul", "type": "quantitative", "scale": {"domain": [0, 2.8], "nice": false},
              "axis": {"orient": "left", "values": [0,0.2,0.4,0.6,0.8,1,1.2,1.4,1.6,1.8,2,2.2,2.4,2.6,2.8], "tickSize": -15, "labels": false, "title": null}},
        "color": {"field": "tau", "type": "nominal", "scale": {"domain": ["tau40", "tau80", "tau120", "tau160"], "range": ["#ff0000", "#0000ff", "#000000", "#7393cf"]}},
        "shape": {"field": "tau", "type": "nominal", "scale": {"domain": ["RS", "WS", "tau40", "tau80", "tau120", "tau160"], "range": ["cross", "cross", "triangle-down", "circle", "M-1,-0.33H-0.33V-1H0.33V-0.33H1V0.33H0.33V1H-0.33V0.33H-1Z", "M0,-1L0.235,-0.32L0.95,-0.31L0.38,0.12L0.59,0.81L0,0.4L-0.59,0.81L-0.38,0.12L-0.95,-0.31L-0.235,-0.32Z"]}, "legend": null},
        "size": {"field": "tau", "type": "ordinal", "scale": {"type": "ordinal", "domain": ["tau40", "tau80", "tau120", "tau160"], "range": [45, 42, 25, 40]}, "legend": null}
      }
    },
    {
      "data": {"values": [{"label": "LHCb"}]},
      "mark": {"type": "text", "font": "Liberation Serif", "fontSize": 50, "align": "center", "baseline": "middle", "color": "#000000"},
      "encoding": {
        "text": {"field": "label"},
        "x": {"datum": 3747.5, "type": "quantitative", "scale": {"domain": [3400, 3800], "nice": false, "zero": false},
              "axis": {"orient": "top", "values": [3400, 3500, 3600, 3700, 3800], "tickSize": -17, "labels": false, "title": null}},
        "y": {"datum": 2.07, "type": "quantitative", "scale": {"domain": [0, 2.8], "nice": false},
              "axis": {"orient": "right", "values": [0, 1, 2], "tickSize": -29, "labels": false, "title": null}}
      }
    },
    {
      "data": {"values": [{"label": "√s = 13 TeV"}]},
      "mark": {"type": "text", "font": "Liberation Serif", "fontSize": 39, "align": "center", "baseline": "middle", "color": "#000000"},
      "encoding": {
        "text": {"field": "label"},
        "x": {"datum": 3747.5, "type": "quantitative", "scale": {"domain": [3400, 3800], "nice": false, "zero": false},
              "axis": {"orient": "top", "values": [3400,3420,3440,3460,3480,3500,3520,3540,3560,3580,3600,3620,3640,3660,3680,3700,3720,3740,3760,3780,3800], "tickSize": -8, "labels": false, "title": null}},
        "y": {"datum": 1.77, "type": "quantitative", "scale": {"domain": [0, 2.8], "nice": false},
              "axis": {"orient": "right", "values": [0,0.2,0.4,0.6,0.8,1,1.2,1.4,1.6,1.8,2,2.2,2.4,2.6,2.8], "tickSize": -15, "labels": false, "title": null}}
      }
    }
  ]
}
]
}
